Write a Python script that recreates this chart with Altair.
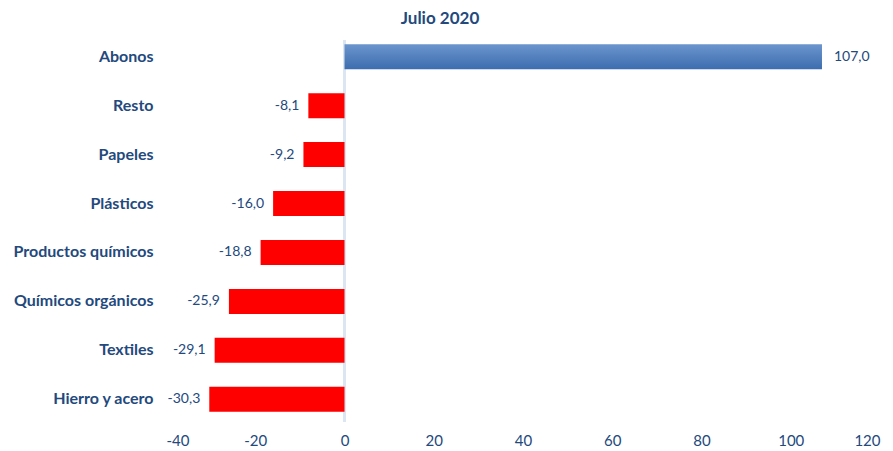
import altair as alt
import pandas as pd

categories = ["Abonos", "Resto", "Papeles", "Plásticos", "Productos químicos",
              "Químicos orgánicos", "Textiles", "Hierro y acero"]
values = [107.0, -8.1, -9.2, -16.0, -18.8, -25.9, -29.1, -30.3]
x_ticks = [-40, -20, 0, 20, 40, 60, 80, 100, 120]

df = pd.DataFrame({"cat": categories, "v": values})

TXT = "#23497d"
FONT = "Lato"

base = alt.Chart(df).transform_calculate(
    lbl="replace(replace(format(datum.v, '.1f'), '.', ','), '\u2212', '-')"
)

y_enc = alt.Y("cat:N", sort=categories, title=None,
              axis=alt.Axis(labelFont=FONT, labelFontSize=16, labelFontWeight="bold",
                            labelColor=TXT, ticks=False, domain=False, labelPadding=13,
                            labelLimit=300),
              scale=alt.Scale(paddingInner=0.49, paddingOuter=0.25))
x_enc = alt.X("v:Q", title=None,
              scale=alt.Scale(domain=[-40, 120], nice=False),
              axis=alt.Axis(values=x_ticks, labelFont=FONT, labelFontSize=15,
                            labelColor=TXT, ticks=False, domain=False, grid=False,
                            labelPadding=9,
                            labelExpr="replace(datum.label, '\u2212', '-')"))

blue = base.transform_filter("datum.v >= 0").mark_bar(
    color=alt.Gradient(gradient="linear", x1=0, x2=0, y1=0, y2=1,
                       stops=[alt.GradientStop(color="#6b95cd", offset=0),
                              alt.GradientStop(color="#3d6daf", offset=1)])
).encode(x=x_enc, y=y_enc)

red = base.transform_filter("datum.v < 0").mark_bar(color="#ff0000").encode(x=x_enc, y=y_enc)

zero = alt.Chart(df).mark_rule(color="#dce6f2", strokeWidth=2).encode(
    x=alt.X(datum=0), y=alt.value(8), y2=alt.value(390))

pos_txt = base.transform_filter("datum.v >= 0").mark_text(
    align="left", dx=12, font=FONT, fontSize=14, color=TXT
).encode(x="v:Q", y=alt.Y("cat:N", sort=categories), text="lbl:N")

neg_txt = base.transform_filter("datum.v < 0").mark_text(
    align="right", dx=-9, font=FONT, fontSize=14, color=TXT
).encode(x="v:Q", y=alt.Y("cat:N", sort=categories), text="lbl:N")

chart = alt.layer(zero, blue, red, pos_txt, neg_txt).properties(
    width=714, height=392,
    title=alt.TitleParams("Julio 2020", font=FONT, fontSize=17, fontWeight="bold",
                          color=TXT, anchor="middle", dx=-83, offset=4),
    autosize=alt.AutoSizeParams(type="none"),
    padding={"left": 158, "top": 24, "right": 5, "bottom": 30},
).configure(background="white").configure_view(stroke=None, strokeWidth=0)

chart.save("out.html", embed_options={"renderer": "svg", "actions": False})
